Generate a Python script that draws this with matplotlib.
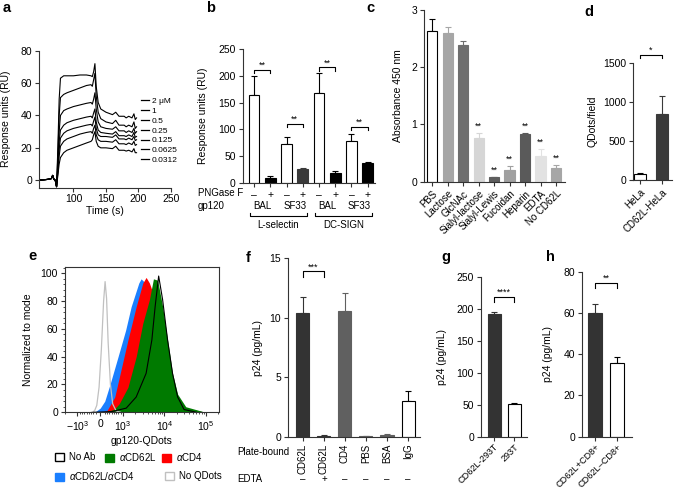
import matplotlib
matplotlib.use("Agg")
import matplotlib.pyplot as plt
import matplotlib.ticker as mticker
from matplotlib.transforms import blended_transform_factory
from matplotlib.patches import Patch
from matplotlib.lines import Line2D

plt.rcParams["font.family"] = ["Liberation Sans", "DejaVu Sans"]
plt.rcParams["mathtext.fontset"] = "custom"
plt.rcParams["mathtext.rm"] = "Liberation Sans"
plt.rcParams["mathtext.it"] = "Liberation Sans:italic"

# ---- panel a: SPR sensorgrams ----
spr_time = [47, 60, 66, 68, 70, 72, 74, 76, 78, 80, 85, 90, 100, 110, 120, 127, 129, 131,
            133, 135, 138, 142, 150, 160, 165, 170, 178, 181, 185, 190, 193, 195, 197]
spr_base = [0, 0.5, 1, 3, 0.5, 0, -4]
spr_labels = ["2 \u03bcM", "1", "0.5", "0.25", "0.125", "0.0625", "0.0312"]
spr_2 = [20, 50, 63, 64.5, 64.5, 64.5, 65, 65, 64.5, 64, 67, 72,
         58, 48, 44, 42, 40.5, 42, 39.5, 39.5, 38.5, 39.5, 38.5, 41, 37.5, 38.5]
spr_1 = [15, 40, 51, 53, 54, 55.5, 57, 58.5, 59, 58, 62, 66,
         52, 42, 38, 36, 35, 37, 34, 34, 33, 34, 33, 36, 32, 33]
spr_05 = [10, 30, 40, 43, 44, 45.5, 46.5, 47.5, 48, 47, 50, 54,
          44, 36, 33, 32, 31.5, 33, 30.5, 30.5, 29.5, 30.5, 29.5, 32, 29, 30]
spr_025 = [8, 24, 31, 34, 35.5, 37, 38, 39, 39.5, 38.5, 41.5, 44,
           36, 31, 29.5, 29, 28.5, 30, 27.5, 27.5, 27, 28, 27, 29.5, 26.5, 27]
spr_0125 = [6, 19, 26, 29, 30.5, 32, 33, 34, 34.5, 33.5, 36.5, 39,
            32, 28, 27, 27, 26.5, 28, 25.5, 25.5, 25, 26, 25, 27, 24.5, 25]
spr_00625 = [5, 15, 21, 24, 25.5, 27, 28.5, 29.5, 30, 29, 32, 34,
             28, 25, 24, 24, 23.5, 25, 22.5, 22.5, 22, 23, 22, 24, 21.5, 22]
spr_00312 = [3, 10, 14, 17, 18.5, 20, 21.5, 23, 24, 25, 28, 30,
             24, 21, 20, 20, 19.5, 21, 18.5, 18.5, 18, 18.5, 17.5, 19.5, 17, 17]
spr_curves = [spr_2, spr_1, spr_05, spr_025, spr_0125, spr_00625, spr_00312]

# ---- panel b ----
b_signs = ["\u2013", "+", "\u2013", "+", "\u2013", "+", "\u2013", "+"]
b_gp120 = ["BAL", "SF33", "BAL", "SF33"]
b_vals = [165, 9, 73, 25, 168, 18, 79, 36]
b_errs = [35, 4, 12, 2, 37, 4, 12, 3]
b_colors = ["white", "black", "white", "#3a3a3a", "white", "black", "white", "black"]

# ---- panel c ----
c_labels = ["PBS", "Lactose", "GlcNAc", "Sialyl-lactose", "Sialyl-Lewis", "Fucoidan",
            "Heparin", "EDTA", "No CD62L"]
c_vals = [2.63, 2.60, 2.38, 0.76, 0.08, 0.21, 0.84, 0.45, 0.24]
c_errs = [0.22, 0.10, 0.08, 0.09, 0.01, 0.07, 0.01, 0.12, 0.05]
c_colors = ["white", "#a6a6a6", "#6e6e6e", "#d6d6d6", "#5e5e5e", "#a0a0a0",
            "#5a5a5a", "#e2e2e2", "#a6a6a6"]

# ---- panel d ----
d_labels = ["HeLa", "CD62L-HeLa"]
d_vals = [75, 850]
d_errs = [20, 230]
d_colors = ["white", "#3a3a3a"]

# ---- panel e: flow histograms (x in fluorescence units, y in % of mode) ----
e_blue_x = [-250, 0, 200, 430, 785, 1160, 1580, 2420, 2750, 3200, 4500, 6900, 9120, 12000, 15800, 21000, 33000, 100000]
e_blue_y = [0, 3, 8, 20, 40, 59, 76, 93, 96, 94, 88, 80, 65, 45, 22, 10, 3, 0]
e_red_x = [-100, 290, 640, 880, 1320, 2090, 3020, 3630, 4360, 5000, 5460, 6900, 9120, 12000, 15800, 21000, 33000, 100000]
e_red_y = [0, 1, 11, 28, 52, 76, 93, 97, 93, 88, 85, 80, 68, 48, 25, 11, 3, 0]
e_green_x = [100, 600, 830, 1320, 2090, 3020, 4360, 5460, 6900, 9120, 12000, 15800, 21000, 33000, 100000]
e_green_y = [0, 2, 6, 18, 40, 64, 81, 96, 95, 76, 52, 28, 13, 4, 0]
e_gray_x = [-400, -250, -150, -50, 50, 150, 215, 280, 350, 450, 550, 700, 900]
e_gray_y = [0, 1, 5, 18, 45, 80, 94, 82, 50, 20, 6, 1, 0]
e_black_x = [-300, 500, 1200, 2090, 3630, 5000, 6000, 7300, 9100, 12000, 15800, 21000, 30000, 60000]
e_black_y = [0, 0.5, 3, 11, 28, 52, 76, 98, 81, 52, 28, 11, 2, 0]

# ---- panel f ----
f_labels = ["CD62L", "CD62L", "CD4", "PBS", "BSA", "IgG"]
f_edta = ["\u2013", "+", "\u2013", "\u2013", "\u2013", "\u2013"]
f_vals = [10.4, 0.05, 10.6, 0.03, 0.15, 3.0]
f_errs = [1.35, 0.08, 1.5, 0.02, 0.1, 0.85]
f_colors = ["#333333", "#333333", "#606060", "#606060", "#606060", "white"]

# ---- panels g, h ----
g_labels = ["CD62L-293T", "293T"]
g_vals = [193, 51]
g_errs = [2, 1.5]
h_labels = ["CD62L+CD8+", "CD62L\u2013CD8+"]
h_vals = [60, 35.5]
h_errs = [4.5, 3]

W, H = 676, 488
fig = plt.figure(figsize=(W / 100, H / 100), dpi=100)
FS = 7
TS = 7.5
AXC = "#333333"


def add_ax(l, t, r, b):
    return fig.add_axes([l / W, 1 - b / H, (r - l) / W, (b - t) / H])


def style(ax, box=False):
    for s in ["top", "right"]:
        ax.spines[s].set_visible(box)
    for s in ax.spines.values():
        s.set_linewidth(0.8)
        s.set_color(AXC)
    ax.tick_params(length=3, width=0.8, labelsize=TS, color=AXC, pad=2)


def ylab(ax, text, x):
    ax.set_ylabel(text, fontsize=FS + 0.5)
    pos = ax.get_position()
    ax.yaxis.set_label_coords(x / W, pos.y0 + pos.height / 2, transform=fig.transFigure)


def letter(ch, x, y):
    fig.text(x / W, 1 - y / H, ch, fontsize=10.5, fontweight="bold", ha="left", va="center")


def bars(ax, xs, vals, errs, colors, width):
    for x, v, e, c in zip(xs, vals, errs, colors):
        edge = "black" if c == "white" else c
        ax.bar(x, v, width, color=c, edgecolor=edge, linewidth=0.8, zorder=2)
        ax.errorbar(x, v, yerr=[[0], [e]], fmt="none", ecolor=edge, elinewidth=0.8,
                    capsize=2, capthick=0.8, zorder=1)


def sig(ax, x1, x2, y, leg, text):
    ax.plot([x1, x1, x2, x2], [y - leg, y, y, y - leg], color="black", lw=0.8, clip_on=False)
    ax.text((x1 + x2) / 2, y, text, ha="center", va="bottom", fontsize=FS - 0.5)


# panel a
ax = add_ax(39, 50.7, 171, 187.5)
style(ax)
handles = []
for vals, lab in zip(spr_curves, spr_labels):
    ax.plot(spr_time, spr_base + vals, color="black", lw=0.8)
    handles.append(Line2D([0], [0], color="black", lw=0.9, label=lab))
ax.set_xlim(47, 250)
ax.set_ylim(-4.5, 80)
ax.set_xticks([100, 150, 200, 250])
ax.set_yticks([0, 20, 40, 60, 80])
ax.set_xlabel("Time (s)", fontsize=FS + 0.5, labelpad=1)
ylab(ax, "Response units (RU)", 11)
fig.legend(handles=handles, loc="upper left", bbox_to_anchor=(141 / W, 1 - 97 / H),
           frameon=False, fontsize=FS - 1, handlelength=0.9, handletextpad=0.4,
           labelspacing=0.25, borderpad=0, borderaxespad=0)
letter("a", 3, 8)

# panel b
ax = add_ax(242.7, 49.3, 375, 182.7)
style(ax)
bx = list(range(len(b_vals)))
bars(ax, bx, b_vals, b_errs, b_colors, 0.65)
ax.set_xlim(-0.7, 7.45)
ax.set_ylim(0, 250)
ax.set_yticks([0, 50, 100, 150, 200, 250])
ax.set_xticks(bx)
ax.set_xticklabels(b_signs)
ylab(ax, "Response units (RU)", 208)
sig(ax, 0, 1, 212, 6, "**")
sig(ax, 2, 3, 110, 6, "**")
sig(ax, 4, 5, 216, 6, "**")
sig(ax, 6, 7, 105, 6, "**")
tr = blended_transform_factory(ax.transData, fig.transFigure)
fig.text(198 / W, 1 - 193 / H, "PNGase F", fontsize=FS, va="center", ha="left")
fig.text(198 / W, 1 - 206 / H, "gp120", fontsize=FS, va="center", ha="left")
for i, name in enumerate(b_gp120):
    ax.text(2 * i + 0.5, 1 - 206 / H, name, transform=tr, fontsize=FS, ha="center", va="center")
for x1, x2, name in [(-0.25, 3.25, "L-selectin"), (3.75, 7.25, "DC-SIGN")]:
    ax.plot([x1, x1, x2, x2], [1 - 213 / H, 1 - 216 / H, 1 - 216 / H, 1 - 213 / H],
            transform=tr, color="black", lw=0.8, clip_on=False)
    ax.text((x1 + x2) / 2, 1 - 225 / H, name, transform=tr, fontsize=FS, ha="center", va="center")
letter("b", 206, 8)

# panel c
ax = add_ax(424, 10, 565, 181.7)
style(ax)
cx = list(range(len(c_vals)))
bars(ax, cx, c_vals, c_errs, c_colors, 0.65)
ax.set_xlim(-0.52, 8.58)
ax.set_ylim(0, 3)
ax.set_yticks([0, 1, 2, 3])
ax.set_xticks(cx)
ax.set_xticklabels(c_labels, rotation=45, ha="right", rotation_mode="anchor", fontsize=FS)
for i in range(3, len(c_vals)):
    ax.text(i, c_vals[i] + c_errs[i] + 0.04, "**", ha="center", va="bottom", fontsize=FS - 0.5)
ylab(ax, "Absorbance 450 nm", 403)
letter("c", 366, 8)

# panel d
ax = add_ax(633, 63.3, 672, 180)
style(ax)
bars(ax, [0, 1], d_vals, d_errs, d_colors, 0.55)
ax.set_xlim(-0.3, 1.45)
ax.set_ylim(0, 1500)
ax.set_yticks([0, 500, 1000, 1500])
ax.set_xticks([0, 1])
ax.set_xticklabels(d_labels, rotation=45, ha="right", rotation_mode="anchor", fontsize=FS)
sig(ax, 0, 1, 1610, 40, "*")
ylab(ax, "QDots/field", 597)
letter("d", 584, 12)

# panel e
ax = add_ax(65, 267, 219, 412.3)
style(ax, box=True)
ax.set_xscale("symlog", linthresh=1000, linscale=0.495)
ax.fill_between(e_blue_x, e_blue_y, color="#1a7fff", lw=0)
ax.fill_between(e_red_x, e_red_y, color="#ff0000", lw=0)
ax.fill_between(e_green_x, e_green_y, color="#007a00", lw=0)
ax.plot(e_gray_x, e_gray_y, color="#c0c0c0", lw=0.9)
ax.plot(e_black_x, e_black_y, color="black", lw=0.8)
ax.set_xlim(-2000, 210000)
ax.set_ylim(0, 104.5)
ax.set_xticks([-1000, 0, 1000, 10000, 100000])
ax.set_xticklabels(["$-10^3$", "0", "$10^3$", "$10^4$", "$10^5$"])
ax.xaxis.set_minor_locator(mticker.SymmetricalLogLocator(linthresh=1000, base=10, subs=range(2, 10)))
ax.set_yticks([0, 20, 40, 60, 80, 100])
ax.yaxis.set_minor_locator(mticker.MultipleLocator(4))
ax.tick_params(which="minor", length=1.5, width=0.6, color=AXC)
ax.set_xlabel("gp120-QDots", fontsize=FS + 0.5, labelpad=2)
ylab(ax, "Normalized to mode", 33)
letter("e", 28, 256)
e_entries = [
    (Patch(facecolor="white", edgecolor="black", lw=1.0, label="No Ab"), 55, 457),
    (Patch(facecolor="#007a00", edgecolor="#007a00", label=r"$\alpha$CD62L"), 105, 457),
    (Patch(facecolor="#ff0000", edgecolor="#ff0000", label=r"$\alpha$CD4"), 162, 457),
    (Patch(facecolor="#1a7fff", edgecolor="#1a7fff", label=r"$\alpha$CD62L/$\alpha$CD4"), 55, 476),
    (Patch(facecolor="white", edgecolor="#c0c0c0", lw=1.0, label="No QDots"), 165, 476),
]
for h, x, y in e_entries:
    fig.legend(handles=[h], loc="center left", bbox_to_anchor=(x / W, 1 - y / H), frameon=False,
               fontsize=FS, handlelength=0.9, handleheight=0.9, handletextpad=0.5,
               borderpad=0, borderaxespad=0)

# panel f
ax = add_ax(288, 258.3, 420, 436.7)
style(ax)
fx = list(range(len(f_vals)))
bars(ax, fx, f_vals, f_errs, f_colors, 0.62)
ax.set_xlim(-0.71, 5.57)
ax.set_ylim(0, 15)
ax.set_yticks([0, 5, 10, 15])
ax.set_xticks(fx)
ax.set_xticklabels(f_labels, rotation=90, fontsize=FS)
sig(ax, 0, 1, 13.9, 0.5, "***")
ylab(ax, "p24 (pg/mL)", 263)
fig.text(237 / W, 1 - 452 / H, "Plate-bound", fontsize=FS, va="center", ha="left")
fig.text(237 / W, 1 - 479 / H, "EDTA", fontsize=FS, va="center", ha="left")
tr = blended_transform_factory(ax.transData, fig.transFigure)
for i, s in enumerate(f_edta):
    ax.text(i, 1 - 479 / H, s, transform=tr, fontsize=FS, ha="center", va="center")
letter("f", 246, 258)

# panel g
ax = add_ax(481, 277.3, 527, 436.7)
style(ax)
bars(ax, [0, 1], g_vals, g_errs, ["#333333", "white"], 0.65)
ax.set_xlim(-0.65, 1.65)
ax.set_ylim(0, 250)
ax.set_yticks([0, 50, 100, 150, 200, 250])
ax.set_xticks([0, 1])
ax.set_xticklabels(g_labels, rotation=45, ha="right", rotation_mode="anchor", fontsize=6.6)
ax.tick_params(axis="x", pad=1)
sig(ax, 0, 1, 219, 8, "****")
ylab(ax, "p24 (pg/mL)", 447)
letter("g", 441, 257)

# panel h
ax = add_ax(582, 271.7, 632, 436.7)
style(ax)
bars(ax, [0, 1], h_vals, h_errs, ["#333333", "white"], 0.65)
ax.set_xlim(-0.59, 1.68)
ax.set_ylim(0, 80)
ax.set_yticks([0, 20, 40, 60, 80])
ax.set_xticks([0, 1])
ax.set_xticklabels(h_labels, rotation=45, ha="right", rotation_mode="anchor", fontsize=6.6)
ax.tick_params(axis="x", pad=1)
sig(ax, 0, 1, 74.5, 2.5, "**")
ylab(ax, "p24 (pg/mL)", 553)
letter("h", 546, 257)

fig.savefig("out.png", dpi=100)
